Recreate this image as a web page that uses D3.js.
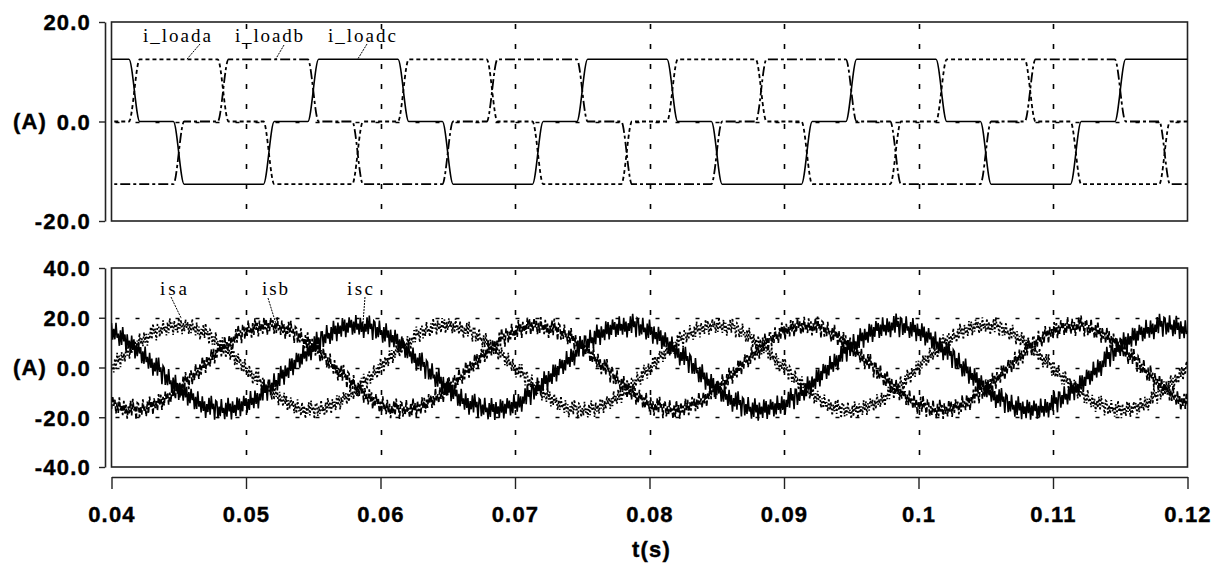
<!DOCTYPE html>
<meta charset="utf-8">
<script src="https://d3js.org/d3.v7.min.js"></script>
<style>
  body { margin: 0; background: #fff; }
  .tick-label { font-family: 'Liberation Sans', Arial, sans-serif; font-weight: bold; font-size: 22px; fill: #000;
    stroke: #000; stroke-width: 0.4px; letter-spacing: 1.2px; }
  .trace-label { font-family: 'Liberation Serif', 'Times New Roman', serif; font-size: 19px; fill: #000; }
</style>
<div id="chart"></div>
<script>
// time axis
var tTicks = [0.04, 0.05, 0.06, 0.07, 0.08, 0.09, 0.10, 0.11, 0.12];
var tTickLabels = ["0.04", "0.05", "0.06", "0.07", "0.08", "0.09", "0.1", "0.11", "0.12"];
var gridT = [0.05, 0.06, 0.07, 0.08, 0.09, 0.10, 0.11];

var topTicks = [20, 0, -20];
var topTickLabels = ["20.0", "0.0", "-20.0"];
var botTicks = [40, 20, 0, -20, -40];
var botTickLabels = ["40.0", "20.0", "0.0", "-20.0", "-40.0"];

// load currents: level before first edge, then level after each edge
var loadaEdges  = [0.0417, 0.0483, 0.0517, 0.0583, 0.0617, 0.0683, 0.0717, 0.0783, 0.0817, 0.0883, 0.0917, 0.0983, 0.1017, 0.1083, 0.1117, 0.1183];
var loadaLevels = [0, 12.5, 0, -12.6, 0, 12.5, 0, -12.6, 0, 12.5, 0, -12.6, 0, 12.5, 0, -12.6, 0];
var loadbEdges  = [0.0450, 0.0483, 0.0550, 0.0583, 0.0650, 0.0683, 0.0750, 0.0783, 0.0850, 0.0883, 0.0950, 0.0983, 0.1050, 0.1083, 0.1150, 0.1183];
var loadbLevels = [-12.6, 0, 12.5, 0, -12.6, 0, 12.5, 0, -12.6, 0, 12.5, 0, -12.6, 0, 12.5, 0, -12.6];
var loadcEdges  = [0.0417, 0.0450, 0.0517, 0.0550, 0.0617, 0.0650, 0.0717, 0.0750, 0.0817, 0.0850, 0.0917, 0.0950, 0.1017, 0.1050, 0.1117, 0.1150];
var loadcLevels = [12.5, 0, -12.6, 0, 12.5, 0, -12.6, 0, 12.5, 0, -12.6, 0, 12.5, 0, -12.6, 0, 12.5];

// source currents, one reading per ms from 0.040 to 0.120
var isa = [
  0.4, 5.1, 10.2, 13.6, 16.0, 16.8, 16.3, 13.9, 9.8, 5.0, -0.3, -5.6, -10.1, -13.9, -16.5, -17.2, -16.0, -13.6, -9.9, -5.1,
  0.2, 5.5, 10.1, 14.0, 16.4, 17.1, 16.0, 13.5, 9.7, 5.2, 0.1, -5.0, -9.8, -13.7, -16.3, -17.3, -16.4, -14.0, -10.2, -5.5,
  -0.2, 5.2, 9.9, 13.7, 16.1, 16.9, 16.4, 14.1, 10.1, 5.4, 0.2, -5.4, -10.3, -14.1, -16.6, -17.4, -16.2, -13.7, -9.8, -5.2,
  0.3, 5.6, 10.3, 13.9, 16.2, 17.2, 16.1, 13.6, 9.9, 5.1, -0.2, -5.3, -10.0, -13.8, -16.1, -17.0, -16.5, -13.9, -10.1, -5.4,
  0.1];
var isb = [
  -14.5, -16.4, -17.1, -15.3, -12.8, -8.3, -3.7, 1.6, 7.1, 11.2, 14.9, 16.4, 17.0, 15.6, 12.4, 8.7, 3.3, -2.0, -6.7, -11.6,
  -14.9, -16.7, -16.8, -15.7, -12.4, -8.6, -3.4, 1.9, 6.8, 11.5, 14.6, 16.8, 16.7, 15.3, 12.7, 8.4, 3.6, -1.7, -7.0, -11.3,
  -14.6, -16.5, -17.2, -15.4, -12.7, -8.4, -3.6, 1.7, 6.9, 11.3, 14.8, 16.5, 17.1, 15.4, 12.5, 8.6, 3.4, -1.9, -6.8, -11.5,
  -14.8, -16.8, -16.9, -15.6, -12.5, -8.5, -3.5, 1.8, 7.0, 11.4, 14.7, 16.7, 16.8, 15.5, 12.6, 8.5, 3.5, -1.8, -6.9, -11.4,
  -14.7];
var isc = [
  14.9, 11.2, 6.7, 1.9, -3.6, -8.7, -12.4, -15.6, -17.0, -16.5, -14.6, -11.5, -7.0, -1.6, 3.7, 8.4, 12.8, 15.7, 17.1, 16.4,
  14.5, 11.6, 7.0, 1.6, -3.4, -8.3, -12.7, -15.4, -16.8, -16.7, -14.8, -11.3, -6.8, -1.9, 3.4, 8.6, 12.5, 15.4, 16.8, 16.7,
  14.8, 11.3, 6.8, 1.9, -3.7, -8.6, -12.5, -15.7, -17.1, -16.4, -14.5, -11.6, -6.9, -1.7, 3.6, 8.5, 12.7, 15.6, 17.0, 16.5,
  14.6, 11.5, 6.9, 1.7, -3.4, -8.4, -12.6, -15.5, -16.9, -16.8, -14.7, -11.2, -7.1, -1.8, 3.5, 8.7, 12.4, 15.3, 16.9, 16.6,
  14.8];

// switching ripple riding on the source currents (A)
var ripple = [2.6, -3.0, 1.1, -2.3, 3.7, -1.2, 0.5, -3.5, 2.2, -2.7, 3.9, -0.9, 1.8, -3.8, 2.5, -1.7, 1.0, -3.0, 3.4,
  -1.3, 2.7, -3.6, 1.4, -2.2, 3.1, -0.6, 2.0, -3.3, 1.2, -2.8, 3.6, -1.5, 0.7, -3.1, 2.8, -2.1, 1.5,
  -4.1, 0.9, -1.8, 3.3, -2.5, 4.2, -0.4, 1.6, -3.9, 2.9];

var W = 1228, H = 571;
var svg = d3.select("#chart").append("svg")
  .attr("width", W)
  .attr("height", H);

var x = d3.scaleLinear().domain([0.04, 0.12]).range([111.5, 1187.5]);
var yTop = d3.scaleLinear().domain([-20, 20]).range([221, 22]);
var yBot = d3.scaleLinear().domain([-40, 40]).range([467, 268]);

var defs = svg.append("defs");
defs.append("clipPath").attr("id", "clipTop").append("rect")
  .attr("x", 111.5).attr("y", 22).attr("width", 1076).attr("height", 199);
defs.append("clipPath").attr("id", "clipBot").append("rect")
  .attr("x", 111.5).attr("y", 268).attr("width", 1076).attr("height", 199);

function drawPanel(y, ticks, labels, hGrid, clipId) {
  var g = svg.append("g");

  // grid
  g.selectAll(".vgrid").data(gridT).enter().append("line")
    .attr("x1", function(d) { return Math.round(x(d)) + 0.5; })
    .attr("x2", function(d) { return Math.round(x(d)) + 0.5; })
    .attr("y1", y.range()[1] + 2).attr("y2", y.range()[0])
    .attr("stroke", "#000").attr("stroke-width", 1.6)
    .attr("stroke-dasharray", "5,15");
  g.selectAll(".hgrid").data(hGrid).enter().append("line")
    .attr("x1", x(0.04) + 4).attr("x2", x(0.12))
    .attr("y1", function(d) { return Math.round(y(d)) + 0.5; })
    .attr("y2", function(d) { return Math.round(y(d)) + 0.5; })
    .attr("stroke", "#000").attr("stroke-width", 1.4)
    .attr("stroke-dasharray", "4,16");

  // frame
  g.append("rect")
    .attr("x", x(0.04)).attr("y", y.range()[1])
    .attr("width", x(0.12) - x(0.04)).attr("height", y.range()[0] - y.range()[1])
    .attr("fill", "none").attr("stroke", "#222").attr("stroke-width", 1.6);

  // y axis bracket
  var ax = svg.append("g")
    .attr("transform", "translate(105,0)")
    .call(d3.axisLeft(y).tickValues(ticks).tickSize(6).tickSizeOuter(0)
      .tickFormat(function(d, i) { return labels[i]; }));
  ax.attr("font-family", null).attr("font-size", null);
  ax.select(".domain").attr("stroke", "#222").attr("stroke-width", 1.6);
  ax.selectAll(".tick line").attr("stroke", "#222").attr("stroke-width", 1.4);
  ax.selectAll(".tick text").attr("class", "tick-label").attr("x", -14).attr("dy", "0.36em");

  svg.append("text").attr("class", "tick-label")
    .attr("x", 13).attr("y", y(0)).attr("dy", "0.36em").text("(A)");

  return svg.append("g").attr("clip-path", "url(#" + clipId + ")");
}

var topG = drawPanel(yTop, topTicks, topTickLabels, [0], "clipTop");
var botG = drawPanel(yBot, botTicks, botTickLabels, [20, 0, -20], "clipBot");

// x axis
var xAxis = svg.append("g")
  .attr("transform", "translate(0,477)")
  .call(d3.axisBottom(x).tickValues(tTicks).tickSize(12).tickSizeOuter(0)
    .tickFormat(function(d, i) { return tTickLabels[i]; }));
xAxis.attr("font-family", null).attr("font-size", null);
xAxis.select(".domain").attr("stroke", "#222").attr("stroke-width", 1.6);
xAxis.selectAll(".tick line").attr("stroke", "#222").attr("stroke-width", 1.4);
xAxis.selectAll(".tick text").attr("class", "tick-label").attr("y", 29).attr("dy", "0.71em");

svg.append("text").attr("class", "tick-label")
  .attr("x", x(0.08) + 2).attr("y", 557)
  .attr("text-anchor", "middle").text("t(s)");

// square-wave load currents
var rampHalf = 0.0004;
function stepPoints(edges, levels) {
  var pts = [[0.035, levels[0]]];
  edges.forEach(function(e, i) {
    pts.push([e - rampHalf, levels[i]]);
    pts.push([e + rampHalf, levels[i + 1]]);
  });
  pts.push([0.125, levels[levels.length - 1]]);
  return pts;
}
var stepLine = d3.line()
  .x(function(d) { return x(d[0]); })
  .y(function(d) { return yTop(d[1]); })
  .curve(d3.curveMonotoneX);

var loads = [
  { edges: loadaEdges, levels: loadaLevels, dash: "4,3", w: 1.8 },
  { edges: loadbEdges, levels: loadbLevels, dash: "10,3,3,3", w: 1.8 },
  { edges: loadcEdges, levels: loadcLevels, dash: null, w: 1.6 }
];
loads.forEach(function(s) {
  topG.append("path")
    .datum(stepPoints(s.edges, s.levels))
    .attr("d", stepLine)
    .attr("fill", "none").attr("stroke", "#000").attr("stroke-width", s.w)
    .attr("stroke-dasharray", s.dash);
});

// noisy source currents
var sampleT = tTicks[0];
var sub = 12;
function noisyPoints(vals, scale, shift) {
  var pts = [];
  for (var k = 0; k < vals.length - 1; k++) {
    for (var j = 0; j < sub; j++) {
      var f = j / sub;
      var r = ripple[(k * sub + j + shift) % ripple.length] * scale;
      pts.push([sampleT + (k + f) * 0.001, vals[k] + f * (vals[k + 1] - vals[k]) + r]);
    }
  }
  pts.push([sampleT + (vals.length - 1) * 0.001, vals[vals.length - 1]]);
  return pts;
}
var noisyLine = d3.line()
  .x(function(d) { return x(d[0]); })
  .y(function(d) { return yBot(d[1]); });

var sources = [
  { vals: isa, scale: 0.9, shift: 5, dash: "2,2", w: 1.7 },
  { vals: isb, scale: 1.0, shift: 23, dash: "5,2", w: 1.7 },
  { vals: isc, scale: 1.15, shift: 0, dash: null, w: 1.6 }
];
sources.forEach(function(s) {
  botG.append("path")
    .datum(noisyPoints(s.vals, s.scale, s.shift))
    .attr("d", noisyLine)
    .attr("fill", "none").attr("stroke", "#000").attr("stroke-width", s.w)
    .attr("stroke-dasharray", s.dash);
});

// trace labels with leaders
var traceLabels = [
  { text: "i_loada", tx: 143, len: 68, base: 42, from: [200, 44], t: 0.0456, v: 12.5, y: yTop },
  { text: "i_loadb", tx: 235, len: 68, base: 42, from: [284, 45], t: 0.0522, v: 12.5, y: yTop },
  { text: "i_loadc", tx: 328, len: 68, base: 42, from: [367, 44], t: 0.0583, v: 12.5, y: yTop },
  { text: "isa", tx: 160, len: 27, base: 295, from: [171, 297], t: 0.0452, v: 19.6, y: yBot },
  { text: "isb", tx: 262, len: 26, base: 295, from: [268, 298], t: 0.0522, v: 18.0, y: yBot },
  { text: "isc", tx: 347, len: 26, base: 295, from: [365, 297], t: 0.0587, v: 18.0, y: yBot }
];
traceLabels.forEach(function(l) {
  svg.append("text").attr("class", "trace-label")
    .attr("x", l.tx).attr("y", l.base)
    .attr("textLength", l.len).attr("lengthAdjust", "spacing")
    .text(l.text);
  svg.append("line")
    .attr("x1", l.from[0]).attr("y1", l.from[1])
    .attr("x2", x(l.t)).attr("y2", l.y(l.v))
    .attr("stroke", "#000").attr("stroke-width", 1)
    .attr("stroke-dasharray", "2,1");
});
</script>
